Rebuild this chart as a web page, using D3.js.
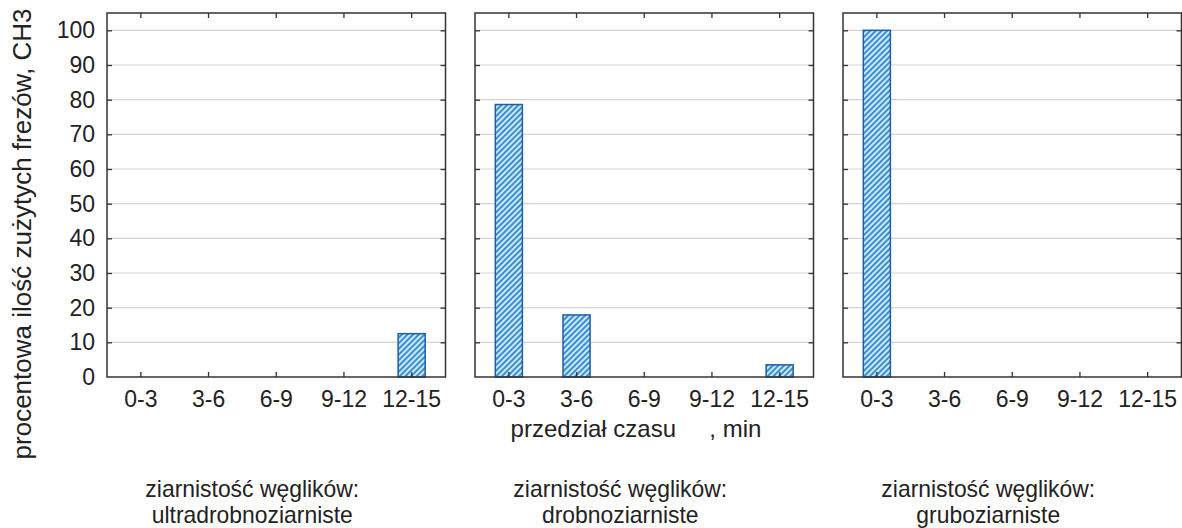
<!DOCTYPE html>
<html><head><meta charset="utf-8">
<script src="https://cdn.jsdelivr.net/npm/d3@7"></script>
<style>
body{margin:0;background:#fff;}
svg{display:block;font-family:"Liberation Sans",Arial,sans-serif;}
</style></head>
<body><svg id="chart" width="1182" height="528"></svg>
<script>
const categories = ["0-3","3-6","6-9","9-12","12-15"];
const panelNames = ["ultradrobnoziarniste","drobnoziarniste","gruboziarniste"];
const valuesUltra = [0,0,0,0,12.5];
const valuesDrobno = [78.6,17.9,0,0,3.5];
const valuesGrubo = [100,0,0,0,0];
const yTicks = [0,10,20,30,40,50,60,70,80,90,100];
const panelTitle = "ziarnistość węglików:";
const xTitle = "przedział czasu     , min";
const yTitle = "procentowa ilość zużytych frezów, CH3";

const panels = [valuesUltra, valuesDrobno, valuesGrubo];

const svg = d3.select("#chart");
const plotTop = 13, plotBottom = 377;
const panelLeft = [107, 475, 843];
const panelW = 338.5;

const defs = svg.append("defs");
const pat = defs.append("pattern").attr("id","hatch").attr("patternUnits","userSpaceOnUse")
  .attr("width",4).attr("height",4).attr("patternTransform","rotate(45)");
pat.append("rect").attr("width",4).attr("height",4).attr("fill","#cfe8f8");
pat.append("line").attr("x1",1).attr("x2",1).attr("y1",0).attr("y2",4)
  .attr("stroke","#3890d4").attr("stroke-width",2);

const y = d3.scaleLinear().domain([0,105]).range([plotBottom, plotTop]);

panels.forEach((vals, pi) => {
  const x0 = panelLeft[pi];
  const g = svg.append("g").attr("transform",`translate(${x0},0)`);
  const x = d3.scaleBand().domain(categories).range([0,panelW]).paddingInner(0.6).paddingOuter(0.3);
  const xt = d3.scaleBand().domain(categories).range([0,panelW]);

  g.append("g").selectAll("line").data(yTicks.filter(d=>d>0)).join("line")
    .attr("x1",0).attr("x2",panelW).attr("y1",d=>y(d)).attr("y2",d=>y(d))
    .attr("stroke","#d2d2d2").attr("stroke-width",1.2);

  g.append("g").selectAll("rect").data(categories.map((c,i)=>({c,v:vals[i]})).filter(d=>d.v>0)).join("rect")
    .attr("x",d=>x(d.c)).attr("width",x.bandwidth())
    .attr("y",d=>y(d.v)).attr("height",d=>y(0)-y(d.v))
    .attr("fill","url(#hatch)").attr("stroke","#1d5ea6").attr("stroke-width",1.5);

  const styleAxis = sel => {
    sel.select(".domain").remove();
    sel.selectAll(".tick line").attr("stroke","#333").attr("stroke-width",1.3);
    sel.selectAll("text").attr("fill","#222").style("font-size","23px").style("font-family","'Liberation Sans',Arial,sans-serif");
  };

  const xb = g.append("g").attr("transform",`translate(0,${plotBottom})`)
    .call(d3.axisBottom(xt).tickSize(-5).tickPadding(9));
  styleAxis(xb);
  xb.selectAll("text").attr("dy","0.71em").attr("y",14);
  const xtop = g.append("g").attr("transform",`translate(0,${plotTop})`)
    .call(d3.axisTop(xt).tickSize(-5).tickFormat(""));
  styleAxis(xtop);
  const yl = g.append("g").call(d3.axisLeft(y).tickValues(yTicks).tickSize(-5).tickPadding(12)
    .tickFormat(pi===0 ? d3.format("d") : ""));
  styleAxis(yl);
  yl.selectAll(".tick").filter(d=>d===0).select("line").remove();
  const yr = g.append("g").attr("transform",`translate(${panelW},0)`)
    .call(d3.axisRight(y).tickValues(yTicks).tickSize(-5).tickFormat(""));
  styleAxis(yr);
  yr.selectAll(".tick").filter(d=>d===0).select("line").remove();

  g.append("rect").attr("x",0).attr("y",plotTop).attr("width",panelW).attr("height",plotBottom-plotTop)
    .attr("fill","none").attr("stroke","#333").attr("stroke-width",1.5);

  // condensed panel titles (horizontal scale to mimic a narrow face)
  const cx = panelW/2 - 24;
  const tg = g.append("g").attr("transform",`translate(${cx},0)`);
  const t1 = tg.append("text").attr("x",0).attr("y",497).attr("text-anchor","middle")
    .style("font-size","23px").attr("fill","#222").text(panelTitle);
  const natural = t1.node().getComputedTextLength();
  const sx = 214 / natural;
  const t2 = tg.append("text").attr("x",0).attr("y",523).attr("text-anchor","middle")
    .style("font-size","23px").attr("fill","#222").text(panelNames[pi]);
  t1.attr("transform",`scale(${sx},1)`);
  t2.attr("transform",`scale(${sx},1)`);
});

svg.append("text").attr("x",636).attr("y",437).attr("text-anchor","middle")
  .style("font-size","24px").style("white-space","pre").attr("fill","#222").text(xTitle);

svg.append("text").attr("transform","translate(31,234) rotate(-90)").attr("text-anchor","middle")
  .style("font-size","26px").attr("fill","#222").text(yTitle);
</script></body></html>
